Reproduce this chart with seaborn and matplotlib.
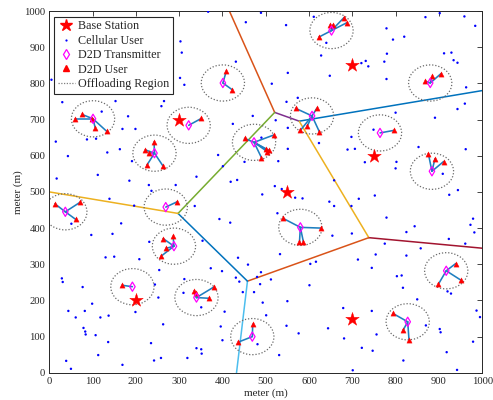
import matplotlib
matplotlib.use("Agg")
import matplotlib.pyplot as plt
from matplotlib.patches import Ellipse
from matplotlib.lines import Line2D
import seaborn as sns
import pandas as pd
import numpy as np

# ---------------- data ----------------
bs_x = [300, 700, 550, 750, 200, 700]
bs_y = [700, 850, 500, 600, 200, 150]

# Voronoi cell borders (segment endpoints) and their colours
edge_x0 = [416, 520.7, 577.3, 577.3, 738.2, 738.2, 457.8, 457.8, 297.4, 297.4]
edge_y0 = [1000, 719.7, 695.5, 695.5, 373.5, 373.5, 253.3, 253.3, 440.5, 440.5]
edge_x1 = [520.7, 577.3, 1000, 738.2, 1000, 457.8, 432.5, 297.4, 520.7, 0]
edge_y1 = [719.7, 695.5, 780, 373.5, 344.4, 253.3, 0, 440.5, 719.7, 500]
edge_colors = ["#D95319", "#7E2F8E", "#0072BD", "#EDB120", "#A2142F",
               "#D95319", "#4DBEEE", "#0072BD", "#77AC30", "#EDB120"]

# D2D transmitters (centres of offloading regions)
tx_x = [652, 880, 401, 101, 322, 243, 473, 607, 764, 884, 37, 269, 580, 288, 192, 340, 469, 828, 917]
tx_y = [946, 801, 801, 702, 684, 607, 637, 710, 663, 557, 445, 458, 402, 350, 238, 208, 100, 141, 282]
region_radius = 50

# D2D users and the transmitter each is linked to
rx_cluster = [0, 0, 0, 0, 0,
              1, 1, 1,
              2, 2,
              3, 3, 3, 3, 3,
              4,
              5, 5, 5, 5, 5,
              6, 6, 6, 6, 6, 6,
              7, 7, 7, 7, 7,
              8,
              9, 9, 9,
              10, 10, 10,
              11,
              12, 12, 12, 12,
              13, 13, 13, 13,
              14,
              15, 15, 15, 15,
              16, 16,
              17, 17, 17,
              18, 18, 18]
rx_x = [623, 649, 655, 681, 688,
        869, 885, 905,
        409, 423,
        60, 76, 98, 106, 133,
        351,
        242, 222, 230, 225, 263,
        451, 518, 500, 507, 504, 490,
        569, 618, 580, 596, 624,
        796,
        876, 891, 911,
        13, 72, 61,
        296,
        540, 627, 578, 587,
        286, 263, 270, 258,
        168,
        335, 339, 380, 368,
        470, 437,
        794, 817, 831,
        939, 951, 899]
rx_y = [928, 961, 961, 982, 968,
        806, 819, 827,
        834, 782,
        702, 714, 702, 677, 667,
        703,
        638, 616, 607, 573, 571,
        648, 657, 618, 615, 611, 595,
        731, 731, 670, 682, 666,
        670,
        604, 592, 584,
        467, 472, 424,
        473,
        427, 400, 362, 362,
        377, 371, 344, 322,
        242,
        227, 221, 237, 206,
        134, 85,
        164, 117, 91,
        302, 256, 245]

# cellular users
cu_x = [30, 153, 265, 259, 121, 182, 169, 199, 87, 108, 163, 134, 43, 191, 17, 112, 185, 230, 292,
        401, 419, 434, 390, 139, 196, 236, 51, 166, 393, 418, 492, 15, 5,
        424, 470, 490, 340, 336, 451, 527, 647, 658, 654, 574, 537,
        303, 306, 302, 312, 367, 431, 454, 489,
        611, 547, 640, 628, 779, 794, 820, 869, 902, 959, 984, 780, 774, 912, 929, 934, 943,
        731, 721, 737, 551, 648, 779, 514, 963, 960, 943, 891, 800, 548, 523, 551, 623, 698,
        749, 689, 706, 729, 802, 800, 853, 962, 909, 529, 551, 658, 521, 568, 585, 715, 752, 924,
        944, 698, 779, 844, 825, 979, 973, 982, 699, 923, 775, 961, 858, 754, 825, 713, 745,
        803, 814, 817, 920, 928, 850,
        679, 745, 756, 681, 722, 747, 818, 870, 902, 904, 979, 918, 942, 987, 995, 701,
        97, 146, 231, 130, 150, 208, 254, 29, 31, 77, 99, 44, 82, 61, 118, 137, 199, 244, 252,
        312, 310, 354, 373, 399, 436, 459, 431, 439, 489, 480, 487, 447, 473, 501, 351, 263,
        396, 400, 79, 83, 84, 107, 136, 235, 113, 39, 50, 169, 242, 258, 319, 340, 351, 352, 481,
        533, 512, 550, 493, 531, 548, 576, 601, 616, 603, 644, 405]
cu_y = [748, 751, 751, 737, 722, 709, 674, 674, 645, 647, 618, 609, 599, 585, 537, 547, 531, 519, 519,
        571, 528, 533, 602, 481, 462, 503, 412, 413, 425, 415, 493, 639, 810,
        688, 710, 650, 542, 461, 583, 441, 473, 461, 379, 760, 508,
        916, 885, 815, 796, 998, 860, 969, 995,
        984, 961, 912, 877, 952, 921, 929, 983, 994, 985, 959, 882, 860, 883, 885, 864, 857,
        862, 856, 847, 829, 821, 812, 799, 789, 744, 729, 705, 719, 749, 698, 677, 635, 652,
        672, 617, 619, 582, 583, 565, 624, 618, 550, 585, 619, 532, 516, 484, 482, 481, 490, 492,
        505, 461, 429, 405, 389, 426, 409, 388, 385, 370, 357, 357, 344, 327, 324, 313, 290,
        267, 269, 235, 225, 219, 203,
        179, 171, 106, 95, 69, 61, 34, 131, 121, 112, 86, 57, 8, 172, 154, 7,
        381, 384, 362, 319, 321, 314, 284, 261, 251, 237, 191, 171, 171, 153, 153, 158, 168, 244, 208,
        259, 221, 365, 289, 281, 318, 299, 263, 252, 278, 265, 245, 223, 223, 159, 181, 134,
        128, 90, 124, 114, 106, 104, 85, 82, 49, 33, 11, 22, 34, 41, 41, 68, 65, 53, 79,
        328, 258, 198, 194, 49, 130, 109, 242, 307, 301, 123, 169]

# ---------------- style ----------------
sns.set_theme(style="white")
plt.rcParams["font.family"] = ["Liberation Serif", "DejaVu Serif"]
plt.rcParams["axes.edgecolor"] = "#262626"
plt.rcParams["axes.linewidth"] = 0.7

fig = plt.figure(figsize=(4.93, 4.0), dpi=100)
ax = fig.add_axes([0.100, 0.068, 0.878, 0.9045])

# Voronoi borders
for x0, y0, x1, y1, c in zip(edge_x0, edge_y0, edge_x1, edge_y1, edge_colors):
    ax.plot([x0, x1], [y0, y1], color=c, lw=1.1, zorder=2)

# D2D links
for cl, x, y in zip(rx_cluster, rx_x, rx_y):
    ax.plot([tx_x[cl], x], [tx_y[cl], y], color="#1f7fc0", lw=1.15, zorder=3)

# offloading regions
for x, y in zip(tx_x, tx_y):
    ax.add_patch(Ellipse((x, y), 2 * region_radius, 2 * region_radius, fill=False,
                         edgecolor="#6a6a6a", linestyle=(0, (1, 1.5)), lw=0.9, zorder=2))

cu = pd.DataFrame({"x": cu_x, "y": cu_y})
bs = pd.DataFrame({"x": bs_x, "y": bs_y})
tx = pd.DataFrame({"x": tx_x, "y": tx_y})
rx = pd.DataFrame({"x": rx_x, "y": rx_y})

sns.scatterplot(data=cu, x="x", y="y", ax=ax, marker="o", s=3, color="#0000ff",
                edgecolor="none", linewidth=0, zorder=4, legend=False)
sns.scatterplot(data=rx, x="x", y="y", ax=ax, marker="^", s=14, color="#ff0000",
                edgecolor="#ff0000", linewidth=0.3, zorder=5, legend=False)
sns.scatterplot(data=tx, x="x", y="y", ax=ax, marker="d", s=22, facecolor="none",
                edgecolor="#ff00ff", linewidth=0.9, zorder=6, legend=False)
sns.scatterplot(data=bs, x="x", y="y", ax=ax, marker="*", s=105, color="#ff0000",
                edgecolor="#ff0000", linewidth=0.3, zorder=6, legend=False)

ax.set_xlim(0, 1000)
ax.set_ylim(0, 1000)
ticks = list(range(0, 1001, 100))
ax.set_xticks(ticks)
ax.set_yticks(ticks)
ax.tick_params(direction="in", top=True, right=True, length=3.5, width=0.6,
               labelsize=7.7, colors="#262626", pad=3)
ax.set_xlabel("meter (m)", fontsize=8, color="#262626", labelpad=2)
ax.set_ylabel("meter (m)", fontsize=8, color="#262626", labelpad=1)

handles = [
    Line2D([], [], ls="none", marker="*", ms=9, color="#ff0000"),
    Line2D([], [], ls="none", marker="o", ms=1.6, color="#0000ff", mec="none"),
    Line2D([], [], ls="none", marker="d", ms=5, mfc="none", mec="#ff00ff", mew=0.9),
    Line2D([], [], ls="none", marker="^", ms=3.8, color="#ff0000"),
    Line2D([], [], color="#808080", ls=(0, (1, 1.2)), lw=0.9),
]
labels = ["Base Station", "Cellular User", "D2D Transmitter", "D2D User", "Offloading Region"]
leg = ax.legend(handles, labels, loc="upper left", bbox_to_anchor=(0.011, 0.984),
                borderaxespad=0, fontsize=8.7, frameon=True, fancybox=False,
                edgecolor="#262626", framealpha=1, handlelength=1.4, handletextpad=0.3,
                labelspacing=0.2, borderpad=0.3)
leg.get_frame().set_linewidth(0.8)
leg.set_zorder(10)

fig.savefig("out.png", dpi=100)
